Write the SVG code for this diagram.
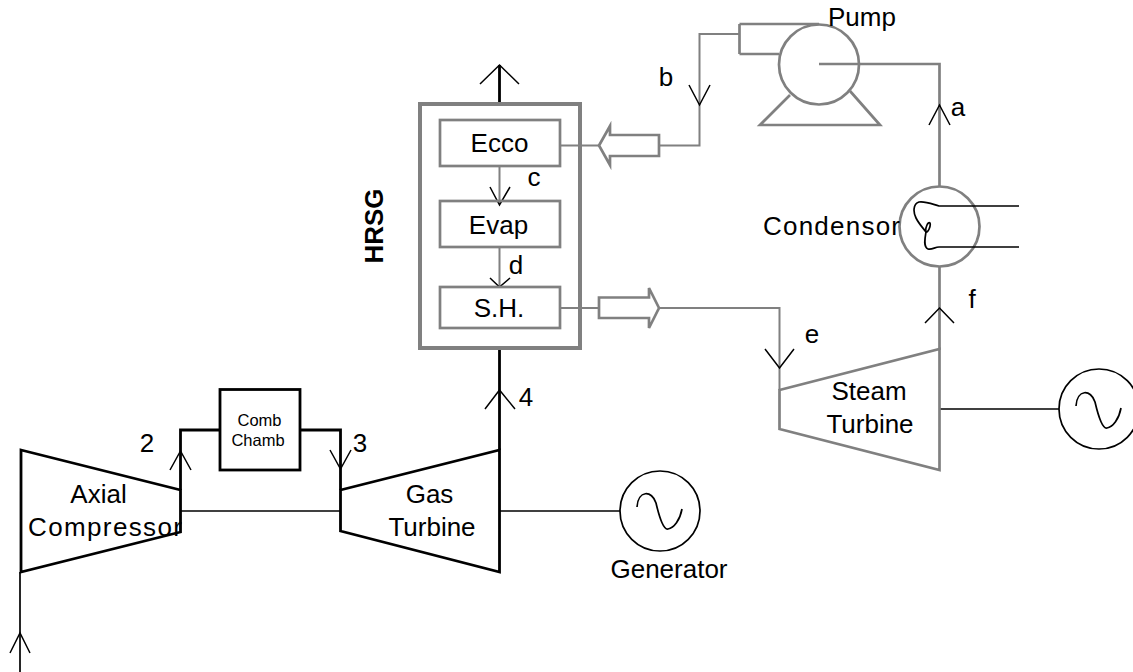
<svg xmlns="http://www.w3.org/2000/svg" width="1133" height="672" viewBox="0 0 1133 672">
<style>
text{font-family:"Liberation Sans",Arial,sans-serif;font-size:26px;fill:#000;text-anchor:middle}
.g{fill:none;stroke:#808080;stroke-width:2.700;stroke-linejoin:miter}
.gt{fill:none;stroke:#808080;stroke-width:2}
.k{fill:none;stroke:#000;stroke-width:2.800}
.kt{fill:none;stroke:#000;stroke-width:1.700}
.a{fill:none;stroke:#000;stroke-width:1.500}
</style>
<rect width="1133" height="672" fill="#fff"/>
<g id="connectors">
<path class="kt" d="M20 572V672"/>
<path class="k" d="M180.500 490V430H220M300 430H340.500V490"/>
<path class="kt" d="M180.500 511H340"/>
<path class="k" d="M499.500 450V348M499.500 104V65"/>
<path class="kt" d="M499.500 511H620"/>
<path class="gt" d="M499.500 166V204M499.500 247V286"/>
<path class="gt" d="M560 145.500H600M659 145.500H699.500V34H739.500"/>
<path class="gt" d="M560 308H599M659 308H779.500V390"/>
<path class="g" d="M939.500 350V267M939.500 187V64H819"/>
<path class="kt" d="M939 409H1059"/>
<path class="a" d="M10 653L20 633L30 653"/>
<path class="a" d="M170 470L180.500 451L191 470"/>
<path class="a" d="M330 450L340.500 469L351 450"/>
<path class="a" d="M485 409L499.500 390L515 409"/>
<path class="a" d="M480 84L499.500 65L519 84"/>
<path class="a" d="M490 187L499.500 205L510 187"/>
<path class="a" d="M490 278L499.500 287L510 278"/>
<path class="a" d="M689 85L699.500 105L710 85"/>
<path class="a" d="M929 125L939.500 105L950 125"/>
<path class="a" d="M765 349L779.500 368L794 349"/>
<path class="a" d="M925 323L939.500 308L954 323"/>
</g>
<g id="compressor"><path class="k" d="M21 450L180.500 490V532L21 572Z"/><text x="98.500" y="503">Axial</text><text x="105" y="536" textLength="154">Compressor</text></g>
<g id="comb-chamber"><rect class="k" x="220" y="389.500" width="80" height="80.500"/><text x="259.500" y="426" style="font-size:16.500px">Comb</text><text x="258" y="446" style="font-size:16.500px">Chamb</text></g>
<g id="gas-turbine"><path class="k" d="M340.500 490L499.500 450V572L340.500 531Z"/><text x="429.500" y="503">Gas</text><text x="432" y="536">Turbine</text></g>
<g id="generator"><circle class="kt" cx="660" cy="511" r="40"/><path class="kt" d="M637 507C638 490 652 490 656 503C660 520 664 530 668 529C674 528 680 520 682 509"/><text x="669" y="578">Generator</text></g>
<g id="hrsg"><rect x="420" y="104" width="160" height="244" fill="none" stroke="#808080" stroke-width="4"/><text transform="translate(383 226) rotate(-90)" style="font-weight:bold">HRSG</text></g>
<g id="ecco"><rect class="g" x="440" y="120" width="120" height="46"/><text x="499.500" y="152">Ecco</text></g>
<g id="evap"><rect class="g" x="440" y="201" width="120" height="46"/><text x="498.500" y="234">Evap</text></g>
<g id="sh"><rect class="g" x="440" y="287" width="120" height="41"/><text x="499" y="317">S.H.</text></g>
<g id="arrow-in"><path class="g" d="M599 145.500L610 126V135H659V156H610V165Z"/></g>
<g id="arrow-out"><path class="g" d="M599 297.500H649V288L659 308L649 328V318H599Z"/></g>
<g id="pump"><circle class="g" cx="819" cy="64.500" r="40"/><path class="g" d="M739.500 24H819M739.500 24V54M739.500 54H779"/><path class="g" d="M790 95L760 125H880L850 91"/><text x="862" y="26">Pump</text></g>
<g id="condensor"><circle class="g" cx="939.500" cy="226.500" r="40"/><path class="kt" d="M1019 206H939C932 204 925 201 919 202C913 204 913 212 916 218C919 224 923 228 926 232C928 233 931 226 930 223C928 221 925 228 926 232C925 238 923 247 928 249C932 250 935 247 939 247H1019"/><text x="831.500" y="235" textLength="137">Condensor</text></g>
<g id="steam-turbine"><path class="g" d="M779.500 390L939.500 349V470L779.500 429Z"/><text x="869" y="400">Steam</text><text x="870" y="433">Turbine</text></g>
<g id="generator-2"><circle class="kt" cx="1099" cy="409" r="40"/><path class="kt" d="M1076 406C1077 389 1091 389 1095 402C1099 419 1103 429 1107 428C1113 427 1119 419 1121 408"/></g>
<g id="labels"><text x="147" y="452">2</text><text x="360" y="452">3</text><text x="526" y="406">4</text><text x="666" y="86">b</text><text x="958" y="116">a</text><text x="534" y="186">c</text><text x="516" y="274">d</text><text x="812" y="343">e</text><text x="972" y="308">f</text></g>
</svg>
